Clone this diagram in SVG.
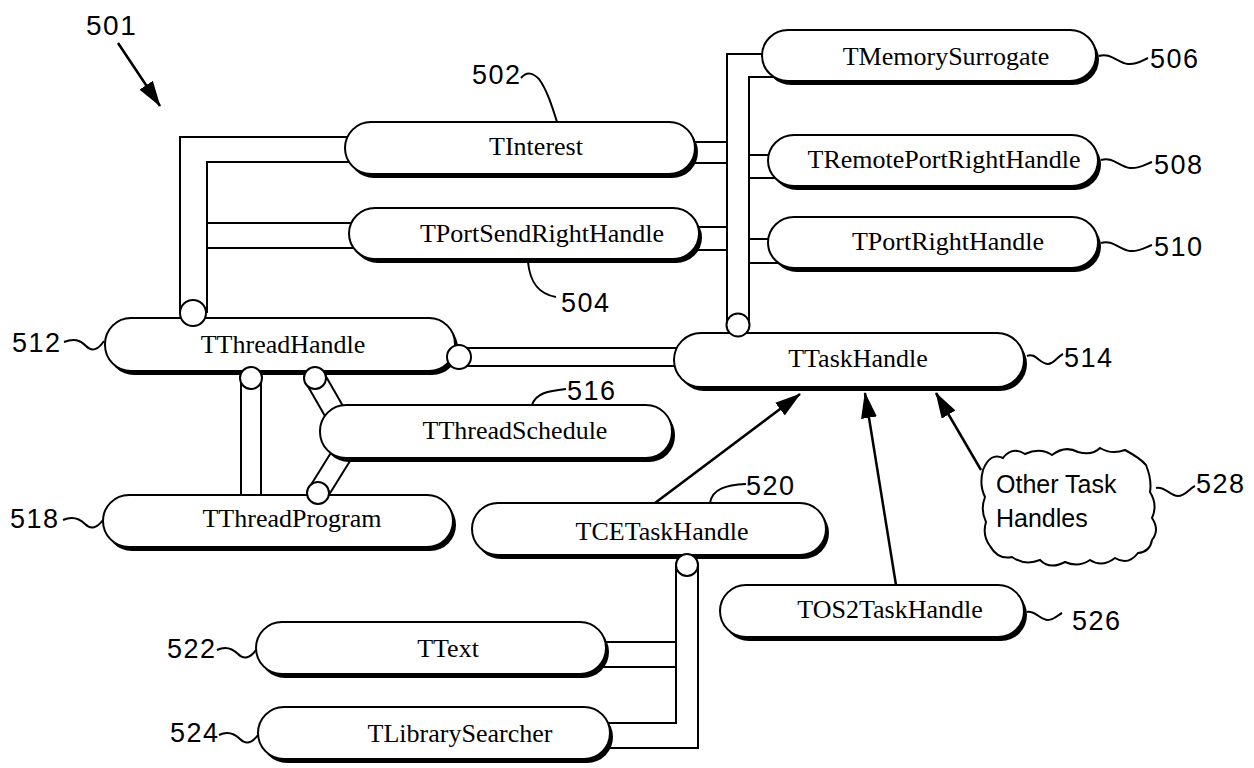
<svg xmlns="http://www.w3.org/2000/svg" width="1254" height="768" viewBox="0 0 1254 768">
<style>
.ln{fill:none;stroke:#000;stroke-width:2}
.shadow{fill:#000}
.box{fill:#fff;stroke:#000;stroke-width:2}
.nt{font-family:"Liberation Serif",serif;font-size:26px;text-anchor:middle;fill:#000}
.lb{font-family:"Liberation Sans",sans-serif;font-size:27px;letter-spacing:1.5px;fill:#000}
.ct{font-family:"Liberation Sans",sans-serif;font-size:25px;fill:#000}
.jn{fill:#fff;stroke:#000;stroke-width:2}
.ar{fill:none;stroke:#000;stroke-width:2.5}
</style>
<defs>
<marker id="head" viewBox="0 0 26 16" refX="25" refY="8" markerWidth="26" markerHeight="16" markerUnits="userSpaceOnUse" orient="auto">
<path d="M0,0 L26,8 L0,16 Z" fill="#000"/>
</marker>
</defs>
<rect width="1254" height="768" fill="#fff"/>

<g id="connectors">
<path class="ln" d="M180,313 V137 H370"/>
<path class="ln" d="M207,313 V162 H370"/>
<path class="ln" d="M207,223 H370"/>
<path class="ln" d="M207,248 H370"/>
<path class="ln" d="M727,325 V54 H790"/>
<path class="ln" d="M749,325 V77 H790"/>
<path class="ln" d="M680,142 H727"/>
<path class="ln" d="M680,163 H727"/>
<path class="ln" d="M680,227 H727"/>
<path class="ln" d="M680,250 H727"/>
<path class="ln" d="M749,155 H790"/>
<path class="ln" d="M749,178 H790"/>
<path class="ln" d="M749,239 H790"/>
<path class="ln" d="M749,263 H790"/>
<path class="ln" d="M459,348 H700"/>
<path class="ln" d="M459,366 H700"/>
<path class="ln" d="M241,378 V510"/>
<path class="ln" d="M261,378 V510"/>
<path class="ln" d="M306,383 L333,430"/>
<path class="ln" d="M324,373 L351,420"/>
<path class="ln" d="M309,488 L337,443"/>
<path class="ln" d="M327,498 L355,453"/>
<path class="ln" d="M676,565 V723 H590"/>
<path class="ln" d="M698,565 V748 H590"/>
<path class="ln" d="M590,642 H676"/>
<path class="ln" d="M590,667 H676"/>
</g>

<g id="node-TInterest">
<rect class="shadow" x="348" y="126" width="350" height="52" rx="26"/>
<rect class="box" x="345" y="122" width="350" height="52" rx="26"/>
<text class="nt" x="536" y="155">TInterest</text>
</g>
<g id="node-TPortSendRightHandle">
<rect class="shadow" x="352" y="212" width="350" height="51" rx="26"/>
<rect class="box" x="349" y="208" width="350" height="51" rx="26"/>
<text class="nt" x="542" y="242">TPortSendRightHandle</text>
</g>
<g id="node-TMemorySurrogate">
<rect class="shadow" x="765" y="34" width="334" height="51" rx="26"/>
<rect class="box" x="762" y="30" width="334" height="51" rx="26"/>
<text class="nt" x="946" y="65">TMemorySurrogate</text>
</g>
<g id="node-TRemotePortRightHandle">
<rect class="shadow" x="771" y="139" width="330" height="51" rx="26"/>
<rect class="box" x="768" y="135" width="330" height="51" rx="26"/>
<text class="nt" x="944" y="168">TRemotePortRightHandle</text>
</g>
<g id="node-TPortRightHandle">
<rect class="shadow" x="771" y="221" width="330" height="51" rx="26"/>
<rect class="box" x="768" y="217" width="330" height="51" rx="26"/>
<text class="nt" x="948" y="250">TPortRightHandle</text>
</g>
<g id="node-TThreadHandle">
<rect class="shadow" x="108" y="322" width="350" height="53" rx="26"/>
<rect class="box" x="105" y="318" width="350" height="53" rx="26"/>
<text class="nt" x="283" y="353">TThreadHandle</text>
</g>
<g id="node-TTaskHandle">
<rect class="shadow" x="677" y="337" width="350" height="54" rx="27"/>
<rect class="box" x="674" y="333" width="350" height="54" rx="27"/>
<text class="nt" x="858" y="367">TTaskHandle</text>
</g>
<g id="node-TThreadSchedule">
<rect class="shadow" x="323" y="409" width="352" height="53" rx="26"/>
<rect class="box" x="320" y="405" width="352" height="53" rx="26"/>
<text class="nt" x="515" y="439">TThreadSchedule</text>
</g>
<g id="node-TThreadProgram">
<rect class="shadow" x="106" y="499" width="350" height="52" rx="26"/>
<rect class="box" x="103" y="495" width="350" height="52" rx="26"/>
<text class="nt" x="292" y="527">TThreadProgram</text>
</g>
<g id="node-TCETaskHandle">
<rect class="shadow" x="475" y="507" width="354" height="52" rx="26"/>
<rect class="box" x="472" y="503" width="354" height="52" rx="26"/>
<text class="nt" x="662" y="540">TCETaskHandle</text>
</g>
<g id="node-TText">
<rect class="shadow" x="259" y="626" width="350" height="52" rx="26"/>
<rect class="box" x="256" y="622" width="350" height="52" rx="26"/>
<text class="nt" x="448" y="657">TText</text>
</g>
<g id="node-TLibrarySearcher">
<rect class="shadow" x="261" y="711" width="352" height="52" rx="26"/>
<rect class="box" x="258" y="707" width="352" height="52" rx="26"/>
<text class="nt" x="460" y="742">TLibrarySearcher</text>
</g>
<g id="node-TOS2TaskHandle">
<rect class="shadow" x="723" y="589" width="304" height="52" rx="26"/>
<rect class="box" x="720" y="585" width="304" height="52" rx="26"/>
<text class="nt" x="890" y="618">TOS2TaskHandle</text>
</g>
<g id="node-OtherTaskHandles">
<path class="box" d="M983,470 Q990,452 1003,458 Q1012,446 1025,454 Q1040,447 1052,455 Q1065,445 1078,452 Q1092,456 1100,448 Q1112,455 1125,450 Q1140,458 1146,465 Q1152,480 1150,492 Q1158,505 1152,518 Q1160,530 1152,540 Q1150,552 1138,553 Q1128,566 1115,558 Q1102,568 1090,560 Q1078,568 1065,562 Q1050,570 1040,560 Q1025,566 1012,557 Q998,560 990,546 Q982,535 986,522 Q980,510 985,497 Q979,485 983,470 Z"/>
<text class="ct" x="996" y="493">Other Task</text>
<text class="ct" x="996" y="527">Handles</text>
</g>

<g id="connector-joints">
<circle class="jn" cx="193" cy="313" r="13"/>
<circle class="jn" cx="738" cy="325" r="11.5"/>
<circle class="jn" cx="459" cy="357" r="12"/>
<circle class="jn" cx="251" cy="378" r="11"/>
<circle class="jn" cx="315" cy="378" r="11"/>
<circle class="jn" cx="318" cy="493" r="11"/>
<circle class="jn" cx="687" cy="565" r="11"/>
</g>

<g id="arrows">
<line class="ar" x1="655" y1="503" x2="800" y2="394" marker-end="url(#head)"/>
<line class="ar" x1="896" y1="585" x2="865" y2="393" marker-end="url(#head)"/>
<line class="ar" x1="981" y1="470" x2="936" y2="393" marker-end="url(#head)"/>
<line class="ar" x1="118" y1="43" x2="160" y2="106" stroke-width="3" marker-end="url(#head)"/>
</g>

<g id="labels">
<text class="lb" x="86" y="35" style="font-size:28px">501</text>
<text class="lb" x="472" y="84">502</text>
<path class="ln" d="M521,78 C527,71 533,73 539,79 C547,90 552,106 557,122"/>
<text class="lb" x="561" y="312">504</text>
<path class="ln" d="M528,262 C530,282 538,294 556,297"/>
<text class="lb" x="1150" y="68">506</text>
<path class="ln" d="M1099,56 C1110,52 1118,63 1128,64 C1137,65 1143,60 1148,58"/>
<text class="lb" x="1154" y="174">508</text>
<path class="ln" d="M1101,160 C1112,156 1120,167 1130,168 C1139,169 1146,164 1152,162"/>
<text class="lb" x="1154" y="256">510</text>
<path class="ln" d="M1101,243 C1112,239 1120,250 1130,251 C1139,252 1146,247 1152,245"/>
<text class="lb" x="12" y="352">512</text>
<path class="ln" d="M104,341 C98,350 92,352 86,346 C80,340 74,338 64,342"/>
<text class="lb" x="1064" y="367">514</text>
<path class="ln" d="M1027,356 C1035,352 1040,364 1048,364 C1054,364 1058,356 1063,354"/>
<text class="lb" x="567" y="400">516</text>
<path class="ln" d="M532,405 C536,393 548,391 566,389"/>
<text class="lb" x="10" y="528">518</text>
<path class="ln" d="M103,520 C97,528 91,530 85,524 C79,518 72,516 63,520"/>
<text class="lb" x="746" y="495">520</text>
<path class="ln" d="M710,503 C712,489 726,485 746,484"/>
<text class="lb" x="167" y="658">522</text>
<path class="ln" d="M256,650 C250,658 244,660 238,654 C232,648 225,646 217,650"/>
<text class="lb" x="170" y="742">524</text>
<path class="ln" d="M258,735 C252,743 246,745 240,739 C234,733 227,731 219,735"/>
<text class="lb" x="1072" y="630">526</text>
<path class="ln" d="M1027,612 C1035,610 1040,620 1048,620 C1054,620 1058,615 1062,613"/>
<text class="lb" x="1196" y="493">528</text>
<path class="ln" d="M1156,488 C1165,486 1170,496 1178,496 C1185,496 1190,488 1195,486"/>
</g>
</svg>
